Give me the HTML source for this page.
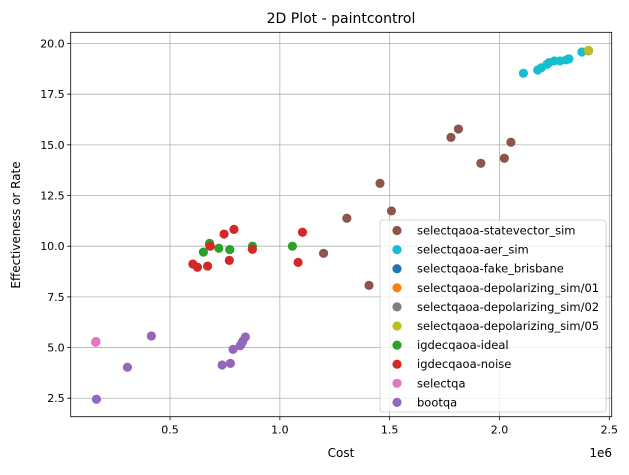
<!DOCTYPE html>
<html><head><meta charset="utf-8"><style>
body{margin:0;background:#fff;}
svg text{font-family:"DejaVu Sans","Liberation Sans",sans-serif;fill:#000;}
</style></head><body>
<svg id="chart" width="629" height="470" xmlns="http://www.w3.org/2000/svg">
<rect width="629" height="470" fill="#fff"/>
<g id="grid"></g><g id="axes"></g><g id="points"></g><g id="legend"></g>
<text x="341" y="23" font-size="14" text-anchor="middle">2D Plot - paintcontrol</text>
<text x="341" y="457" font-size="12" text-anchor="middle">Cost</text>
<text x="612" y="457" font-size="12" text-anchor="end">1e6</text>
<text x="20" y="225" font-size="12" text-anchor="middle" transform="rotate(-90 20 225)">Effectiveness or Rate</text>
</svg>
<script>
const xTicks=[0.5,1.0,1.5,2.0,2.5];
const xTickLabels=["0.5","1.0","1.5","2.0","2.5"];
const yTicks=[2.5,5,7.5,10,12.5,15,17.5,20];
const yTickLabels=["2.5","5.0","7.5","10.0","12.5","15.0","17.5","20.0"];
const seriesNames=["selectqaoa-statevector_sim","selectqaoa-aer_sim","selectqaoa-fake_brisbane","selectqaoa-depolarizing_sim/01","selectqaoa-depolarizing_sim/02","selectqaoa-depolarizing_sim/05","igdecqaoa-ideal","igdecqaoa-noise","selectqa","bootqa"];
const seriesColors=["#8c564b","#17becf","#1f77b4","#ff7f0e","#7f7f7f","#bcbd22","#2ca02c","#d62728","#e377c2","#9467bd"];
const statevectorX=[1.199,1.305,1.406,1.456,1.508,1.779,1.813,1.915,2.022,2.052];
const statevectorY=[9.65,11.38,8.07,13.1,11.74,15.37,15.78,14.09,14.34,15.13];
const aerX=[2.109,2.174,2.19,2.216,2.226,2.25,2.276,2.304,2.316,2.375,2.405];
const aerY=[18.53,18.69,18.8,18.97,19.06,19.14,19.14,19.19,19.24,19.58,19.65];
const fakeX=[];const fakeY=[];
const dep01X=[2.405];const dep01Y=[19.65];
const dep02X=[2.405];const dep02Y=[19.65];
const dep05X=[2.405];const dep05Y=[19.66];
const idealX=[0.68,0.652,0.722,0.772,0.875,1.057,0.68];
const idealY=[10.14,9.71,9.9,9.83,10.0,10.0,10.05];
const noiseX=[0.604,0.625,0.671,0.683,0.746,0.791,0.770,0.875,1.103,1.083];
const noiseY=[9.12,8.96,9.02,10.0,10.6,10.83,9.3,9.85,10.69,9.2];
const selectqaX=[0.161,0.163];const selectqaY=[5.26,5.3];
const bootqaX=[0.165,0.306,0.415,0.737,0.775,0.787,0.819,0.831,0.843,0.826];
const bootqaY=[2.45,4.03,5.57,4.14,4.22,4.91,5.09,5.31,5.52,5.2];
const seriesX=[statevectorX,aerX,fakeX,dep01X,dep02X,dep05X,idealX,noiseX,selectqaX,bootqaX];
const seriesY=[statevectorY,aerY,fakeY,dep01Y,dep02Y,dep05Y,idealY,noiseY,selectqaY,bootqaY];

const L=70.7,R=611.7,T=32.3,B=416.7;
const xs=v=>60.2+v*219.65;
const ys=v=>43.5+(20-v)*20.27;
const NS="http://www.w3.org/2000/svg";
function mk(tag,attrs,parent){const e=document.createElementNS(NS,tag);for(const k in attrs)e.setAttribute(k,attrs[k]);parent.appendChild(e);return e;}
const grid=document.getElementById('grid'),axes=document.getElementById('axes'),pts=document.getElementById('points'),leg=document.getElementById('legend');
xTicks.forEach((t,i)=>{const x=xs(t);
 const g=mk('line',{x1:x,x2:x,y1:T,y2:B,stroke:'#b0b0b0','stroke-width':0.8},grid);
 
 mk('line',{x1:x,x2:x,y1:B,y2:B+3.5,stroke:'#000','stroke-width':0.8},axes);
 const tx=mk('text',{x:x,y:B+17,'font-size':11,'text-anchor':'middle'},axes);tx.textContent=xTickLabels[i];
 });
yTicks.forEach((t,i)=>{const y=ys(t);
 const g=mk('line',{x1:L,x2:R,y1:y,y2:y,stroke:'#b0b0b0','stroke-width':0.8},grid);
 
 mk('line',{x1:L-3.5,x2:L,y1:y,y2:y,stroke:'#000','stroke-width':0.8},axes);
 const tx=mk('text',{x:L-6,y:y+4,'font-size':11,'text-anchor':'end'},axes);tx.textContent=yTickLabels[i];
 });
const fr=mk('rect',{x:L,y:T,width:R-L,height:B-T,fill:'none',stroke:'#000','stroke-width':0.8},axes);

seriesX.forEach((xa,s)=>{xa.forEach((xv,i)=>{
 const c=mk('circle',{cx:xs(xv),cy:ys(seriesY[s][i]),r:4.6,fill:seriesColors[s]},pts);
 
 });});
const lb=mk('rect',{x:380,y:220,width:226,height:192,rx:3,fill:'#fff','fill-opacity':0.8,stroke:'#ccc','stroke-width':0.8},leg);

seriesNames.forEach((n,i)=>{const y=230.5+i*19.1;
 const c=mk('circle',{cx:397,cy:y,r:4.6,fill:seriesColors[i]},leg);
 
 const t=mk('text',{x:417,y:y+4,'font-size':11.5,textLength:0},leg);t.removeAttribute('textLength');t.textContent=n;
 });
</script>
</body></html>
